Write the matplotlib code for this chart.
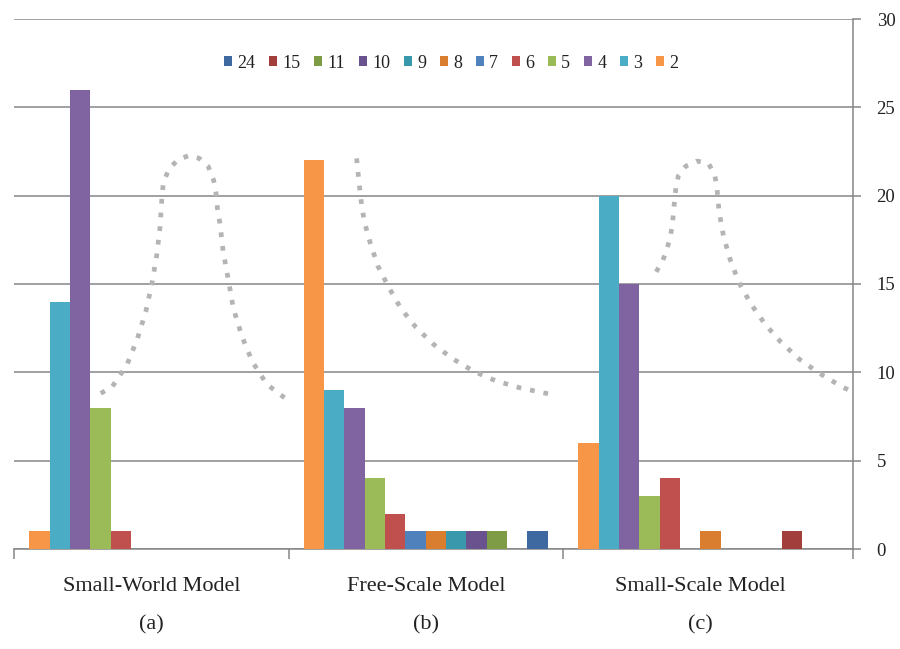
import numpy as np
import matplotlib.pyplot as plt

# degree classes (series) and counts per model (category)
degrees = ['2', '3', '4', '5', '6', '7', '8', '9', '10', '11', '15', '24']
small_world = [1, 14, 26, 8, 1, 0, 0, 0, 0, 0, 0, 0]
free_scale = [22, 9, 8, 4, 2, 1, 1, 1, 1, 1, 0, 1]
small_scale = [6, 20, 15, 3, 4, 0, 1, 0, 0, 0, 1, 0]
models = ['Small-World Model', 'Free-Scale Model', 'Small-Scale Model']
panels = ['(a)', '(b)', '(c)']
colors = ['#F79646', '#4BACC6', '#8064A2', '#9BBB59', '#C0504D', '#4F81BD',
          '#D97D2E', '#3A98AD', '#6A528E', '#7E9B45', '#A23F3C', '#3D68A0']

# dotted illustrative curves (x in category units, y in value units)
curve_a_x = [-0.184, -0.142, -0.089, -0.051, -0.020, 0.002, 0.020, 0.032, 0.039, 0.044,
             0.064, 0.095, 0.135, 0.175, 0.208, 0.227, 0.236, 0.241, 0.250, 0.262,
             0.281, 0.299, 0.330, 0.368, 0.421, 0.493]
curve_a_y = [8.81, 9.19, 10.41, 11.88, 13.43, 15.0, 16.64, 18.24, 19.94, 20.75,
             21.49, 22.01, 22.26, 22.11, 21.64, 20.88, 20.13, 19.28, 18.43, 16.83,
             15.22, 13.62, 12.05, 10.60, 9.32, 8.47]
curve_b_x = [0.748, 0.757, 0.767, 0.775, 0.785, 0.797, 0.825, 0.864, 0.909, 0.964,
             1.027, 1.098, 1.173, 1.255, 1.341, 1.426, 1.467]
curve_b_y = [22.11, 20.70, 19.37, 18.66, 18.01, 17.36, 16.03, 14.84, 13.62, 12.55,
             11.60, 10.77, 10.07, 9.52, 9.13, 8.85, 8.72]
curve_c_x = [1.839, 1.863, 1.878, 1.890, 1.898, 1.906, 1.911, 1.920, 1.947, 1.987,
             2.029, 2.051, 2.060, 2.068, 2.084, 2.108, 2.141, 2.185, 2.236, 2.294,
             2.360, 2.430, 2.505, 2.553]
curve_c_y = [15.69, 16.32, 16.96, 17.64, 18.34, 19.71, 20.45, 21.13, 21.67, 21.96,
             21.83, 21.26, 20.54, 19.13, 17.73, 16.41, 15.07, 13.85, 12.72, 11.70,
             10.75, 9.98, 9.28, 8.89]

plt.rcParams['font.family'] = ['Liberation Serif', 'DejaVu Serif']
grey = '#868686'
txt = '#222222'

fig = plt.figure(figsize=(9, 6.49), dpi=100)
ax = fig.add_axes([14/900, 1-549/649, (853-14)/900, (549-19)/649])

counts = np.array([small_world, free_scale, small_scale])
slot = 1/13.5
x = np.arange(len(models))
handles = []
for i, d in enumerate(degrees):
    h = ax.bar(x + (i - 5.5)*slot, counts[:, i], width=slot, color=colors[i], label=d, zorder=3)
    handles.append(h)

dot = dict(color='#b4b4b4', lw=3.4, linestyle=(0, (1, 1.9)), zorder=4, solid_capstyle='butt')
ax.plot(curve_a_x, curve_a_y, **dot)
ax.plot(curve_b_x, curve_b_y, **dot)
ax.plot(curve_c_x, curve_c_y, **dot)

ax.set_xlim(-0.5, 2.556)
ax.set_ylim(0, 30)
ax.yaxis.tick_right()
ax.set_yticks(range(0, 31, 5))
ax.grid(axis='y', color=grey, lw=1.1, zorder=1)
for s in ['left', 'top']:
    ax.spines[s].set_visible(False)
for s in ['right', 'bottom']:
    ax.spines[s].set_color(grey)
    ax.spines[s].set_linewidth(1.1)
ax.tick_params(axis='y', direction='out', length=6, width=1.1, color=grey, pad=11,
               labelsize=13.5, labelcolor=txt)
ax.set_xticks([-0.5, 0.5, 1.5, 2.556])
ax.tick_params(axis='x', direction='out', length=7, width=1.1, color=grey, labelbottom=False)

for k, m in enumerate(models):
    ax.text(k, -38/17.67, m, ha='center', va='center', fontsize=16, color=txt)
    ax.text(k, -76/17.67, panels[k], ha='center', va='center', fontsize=16, color=txt)

fig.legend(handles[::-1], degrees[::-1], loc='center', bbox_to_anchor=(451/900, 1-63/649),
           ncol=12, frameon=False, fontsize=13, handlelength=0.45, handleheight=0.45,
           handletextpad=0.3, columnspacing=0.75, borderaxespad=0, labelcolor=txt)

fig.savefig('out.png', dpi=100)
